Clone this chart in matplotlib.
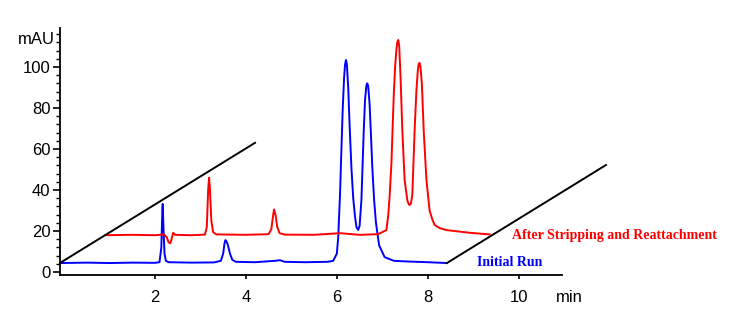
import matplotlib
matplotlib.use("Agg")
import matplotlib.pyplot as plt
from matplotlib.ticker import MultipleLocator

plt.rcParams['font.family'] = ['Liberation Sans', 'DejaVu Sans']

# Initial run (min, mAU)
blue_t = [-0.09, 0.5, 1.0, 1.5, 2.0, 2.10, 2.14, 2.16, 2.17, 2.19, 2.21, 2.24, 2.30,
          2.8, 3.3, 3.45, 3.50, 3.53, 3.55, 3.57, 3.60, 3.65, 3.70, 3.78, 4.2, 4.65,
          4.75, 4.85, 5.3, 5.8, 5.92, 6.00, 6.03, 6.07, 6.10, 6.13, 6.16, 6.18, 6.20,
          6.22, 6.25, 6.28, 6.32, 6.36, 6.40, 6.43, 6.47, 6.50, 6.54, 6.59, 6.62,
          6.65, 6.67, 6.69, 6.72, 6.75, 6.78, 6.82, 6.86, 6.93, 7.05, 7.25, 7.5,
          8.0, 8.42]
blue_v = [4.4, 4.6, 4.4, 4.6, 4.5, 4.8, 12.0, 28.0, 33.2, 20.0, 9.0, 5.5, 4.8,
          4.6, 4.7, 5.5, 9.0, 14.0, 15.6, 15.0, 13.5, 9.0, 6.0, 5.0, 4.8, 5.5,
          5.8, 5.0, 4.8, 5.0, 5.5, 9.0, 17.0, 38.0, 59.5, 80.0, 95.0, 101.0, 103.4,
          101.5, 90.0, 72.0, 51.0, 36.0, 27.0, 22.0, 20.5, 22.5, 35.0, 68.0, 84.0,
          91.0, 92.0, 90.5, 82.0, 67.0, 51.0, 35.0, 24.0, 13.0, 7.3, 5.5, 5.2,
          4.8, 4.4]

# After stripping and reattachment (min, mAU), in its own frame
red_t = [-0.09, 0.5, 1.0, 1.20, 1.26, 1.30, 1.34, 1.37, 1.40, 1.44, 1.8,
         2.10, 2.14, 2.17, 2.19, 2.21, 2.24, 2.28, 2.35, 3.0, 3.50, 3.56, 3.60,
         3.62, 3.65, 3.69, 3.74, 3.85, 4.5, 5.07, 5.5, 5.9, 6.00, 6.09, 6.13,
         6.16, 6.20, 6.25, 6.28, 6.31, 6.33, 6.35, 6.37, 6.40, 6.44, 6.49, 6.55,
         6.58, 6.60, 6.63, 6.66, 6.71, 6.75, 6.78, 6.80, 6.82, 6.84, 6.87, 6.91,
         6.97, 7.04, 7.10, 7.15, 7.26, 7.41, 7.92, 8.36]
red_v = [4.3, 4.5, 4.3, 4.7, 3.3, 0.8, 0.4, 2.8, 5.5, 4.5, 4.3,
         4.6, 8.3, 26.3, 32.3, 26.3, 11.3, 5.8, 4.7, 4.5, 4.8, 7.3, 14.3,
         16.9, 14.3, 8.3, 5.3, 4.6, 4.5, 5.3, 4.5, 4.8, 5.8, 6.8, 14.0,
         23.0, 39.3, 71.8, 86.0, 95.0, 98.5, 99.5, 97.0, 82.0, 55.3, 31.3, 21.3,
         19.5, 19.0, 19.8, 24.0, 55.3, 75.0, 84.5, 88.0, 88.3, 86.0, 78.0, 55.3,
         31.3, 16.3, 12.0, 9.3, 7.8, 6.8, 5.5, 4.7]

# offset of the second run in the stacked view
dx, dy = 1.0, 13.66

fig = plt.figure(figsize=(7.5, 3.33), dpi=100)
ax = fig.add_axes([0.08, 0.174, 0.913, 0.742])
ax.set_xlim(-0.088, 14.97)
ax.set_ylim(-1.46, 119.0)

ax.plot(blue_t, blue_v, color='#0000ff', lw=1.4)
ax.plot([t + dx for t in red_t], [v + dy for v in red_v], color='#ff0000', lw=1.4)

# depth axes
ax.plot([blue_t[0], blue_t[0] + 4.29 * dx], [blue_v[0], blue_v[0] + 4.29 * dy],
        color='black', lw=1.4, clip_on=False)
ax.plot([blue_t[-1], blue_t[-1] + 3.5 * dx], [blue_v[-1], blue_v[-1] + 3.5 * dy],
        color='black', lw=1.4, clip_on=False)

for s in ['top', 'right']:
    ax.spines[s].set_visible(False)
ax.spines['bottom'].set_bounds(-0.088, 10.95)
ax.spines['left'].set_linewidth(1.3)
ax.spines['bottom'].set_linewidth(1.3)

ax.set_xticks([2, 4, 6, 8, 10])
ax.set_xticklabels(['2', '4', '6', '8', '10'])
ax.set_yticks([0, 20, 40, 60, 80, 100])
ax.yaxis.set_minor_locator(MultipleLocator(4))
ax.tick_params(axis='both', which='major', labelsize=12, width=1.2)
ax.tick_params(axis='y', which='major', length=5, pad=2)
ax.tick_params(axis='y', which='minor', length=3, width=1)
ax.tick_params(axis='x', which='major', length=3, pad=8)

fig.text(55 / 750, 1 - 40 / 333, 'mAU', ha='right', va='center', fontsize=12)
fig.text(556 / 750, 1 - 297 / 333, 'min', ha='left', va='center', fontsize=12)

fig.text(512 / 750, 1 - 236 / 333, 'After Stripping and Reattachment', color='#ff0000',
         family='Liberation Serif', fontweight='bold', fontsize=10, ha='left', va='center')
fig.text(477 / 750, 1 - 263 / 333, 'Initial Run', color='#0000ff',
         family='Liberation Serif', fontweight='bold', fontsize=10, ha='left', va='center')

fig.savefig('out.png', dpi=100)
